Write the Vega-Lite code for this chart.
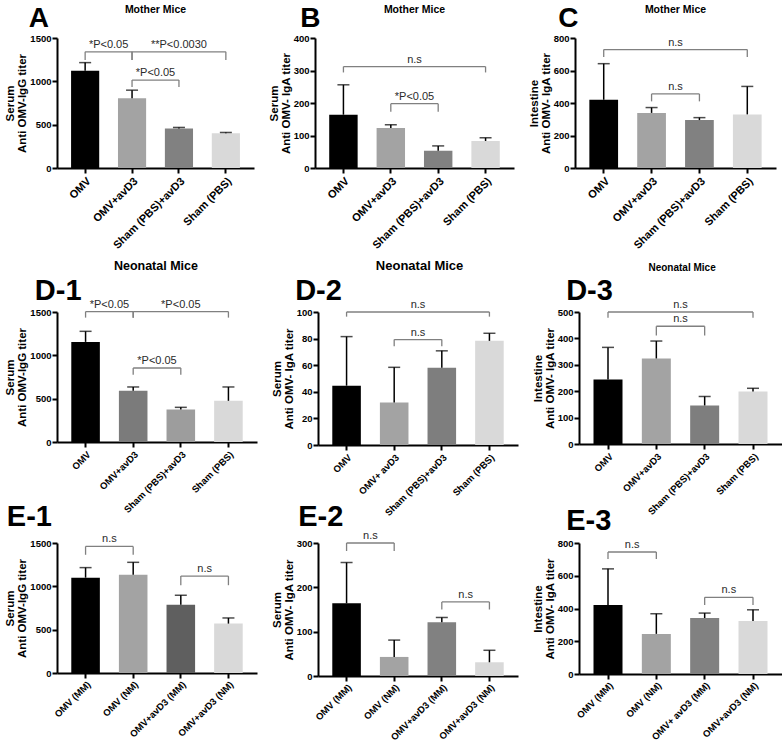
{
"$schema": "https://vega.github.io/schema/vega-lite/v6.json",
"padding": {"left": 4, "top": 4, "right": 0, "bottom": 0},
"datasets": {
"bars": [
{"p":"A","g":"OMV","v":1122,"u":1216},{"p":"A","g":"OMV+avD3","v":806,"u":898},{"p":"A","g":"Sham (PBS)+avD3","v":455,"u":468},{"p":"A","g":"Sham (PBS)","v":400,"u":410},
{"p":"B","g":"OMV","v":164,"u":256},{"p":"B","g":"OMV+avD3","v":123,"u":133},{"p":"B","g":"Sham (PBS)+avD3","v":53,"u":68},{"p":"B","g":"Sham (PBS)","v":83,"u":93},
{"p":"C","g":"OMV","v":420,"u":642},{"p":"C","g":"OMV+avD3","v":339,"u":372},{"p":"C","g":"Sham (PBS)+avD3","v":295,"u":310},{"p":"C","g":"Sham (PBS)","v":330,"u":502},
{"p":"D1","g":"OMV","v":1155,"u":1277},{"p":"D1","g":"OMV+avD3","v":590,"u":635},{"p":"D1","g":"Sham (PBS)+avD3","v":375,"u":400},{"p":"D1","g":"Sham (PBS)","v":475,"u":635},
{"p":"D2","g":"OMV","v":44.6,"u":81.5},{"p":"D2","g":"OMV+ avD3","v":32,"u":58.4},{"p":"D2","g":"Sham (PBS)+avD3","v":58,"u":70.8},{"p":"D2","g":"Sham (PBS)","v":78.3,"u":84},
{"p":"D3","g":"OMV","v":244,"u":366},{"p":"D3","g":"OMV+avD3","v":324,"u":390},{"p":"D3","g":"Sham (PBS)+avD3","v":146,"u":180},{"p":"D3","g":"Sham (PBS)","v":199,"u":211},
{"p":"E1","g":"OMV (MM)","v":1100,"u":1216},{"p":"E1","g":"OMV (NM)","v":1133,"u":1277},{"p":"E1","g":"OMV+avD3 (MM)","v":787,"u":897},{"p":"E1","g":"OMV+avD3 (NM)","v":570,"u":635},
{"p":"E2","g":"OMV (MM)","v":164,"u":256},{"p":"E2","g":"OMV (NM)","v":43,"u":81},{"p":"E2","g":"OMV+avD3 (MM)","v":121,"u":132},{"p":"E2","g":"OMV+avD3 (NM)","v":31,"u":58},
{"p":"E3","g":"OMV (MM)","v":422,"u":642},{"p":"E3","g":"OMV (NM)","v":245,"u":368},{"p":"E3","g":"OMV+ avD3 (MM)","v":342,"u":372},{"p":"E3","g":"OMV+avD3 (NM)","v":324,"u":392}
],
"br": [
{"p":"A","a":"OMV","b":"OMV+avD3","lv":1340,"lo":1245,"t":"*P<0.05","s":1},
{"p":"A","a":"OMV+avD3","b":"Sham (PBS)","lv":1340,"lo":1245,"t":"**P<0.0030","s":2},
{"p":"A","a":"OMV+avD3","b":"Sham (PBS)+avD3","lv":1015,"lo":935,"t":"*P<0.05","s":1},
{"p":"B","a":"OMV","b":"Sham (PBS)","lv":312,"lo":294,"t":"n.s","s":3},
{"p":"B","a":"OMV+avD3","b":"Sham (PBS)+avD3","lv":198,"lo":173,"t":"*P<0.05","s":1},
{"p":"C","a":"OMV","b":"Sham (PBS)","lv":729,"lo":683,"t":"n.s","s":3},
{"p":"C","a":"OMV+avD3","b":"Sham (PBS)+avD3","lv":456,"lo":410,"t":"n.s","s":1},
{"p":"D1","a":"OMV","b":"OMV+avD3","lv":1505,"lo":1435,"t":"*P<0.05","s":1},
{"p":"D1","a":"OMV+avD3","b":"Sham (PBS)","lv":1505,"lo":1435,"t":"*P<0.05","s":2},
{"p":"D1","a":"OMV+avD3","b":"Sham (PBS)+avD3","lv":854,"lo":777,"t":"*P<0.05","s":1},
{"p":"D2","a":"OMV","b":"Sham (PBS)","lv":100,"lo":96.5,"t":"n.s","s":3},
{"p":"D2","a":"OMV+ avD3","b":"Sham (PBS)+avD3","lv":79.3,"lo":74.3,"t":"n.s","s":1},
{"p":"D3","a":"OMV","b":"Sham (PBS)","lv":500,"lo":478,"t":"n.s","s":3},
{"p":"D3","a":"OMV+avD3","b":"Sham (PBS)+avD3","lv":446,"lo":411,"t":"n.s","s":1},
{"p":"E1","a":"OMV (MM)","b":"OMV (NM)","lv":1461,"lo":1364,"t":"n.s","s":1},
{"p":"E1","a":"OMV+avD3 (MM)","b":"OMV+avD3 (NM)","lv":1118,"lo":1013,"t":"n.s","s":1},
{"p":"E2","a":"OMV (MM)","b":"OMV (NM)","lv":300,"lo":282,"t":"n.s","s":1},
{"p":"E2","a":"OMV+avD3 (MM)","b":"OMV+avD3 (NM)","lv":167,"lo":150,"t":"n.s","s":1},
{"p":"E3","a":"OMV (MM)","b":"OMV (NM)","lv":745,"lo":703,"t":"n.s","s":1},
{"p":"E3","a":"OMV+ avD3 (MM)","b":"OMV+avD3 (NM)","lv":468,"lo":421,"t":"n.s","s":1}
]
},
"config": {
"font": "Liberation Sans",
"view": {"stroke": null},
"axis": {"domainColor":"#000","domainWidth":2,"tickColor":"#000","tickWidth":2,"tickSize":5,"grid":false,"labelColor":"#000","labelFontWeight":"bold","titleColor":"#000","titleFontWeight":"bold","labelPadding":1,"labelOverlap":false},
"axisX": {"labelAngle":-45,"labelFontSize":10,"labelPadding":2},
"axisY": {"labelFontSize":9.5,"titleFontSize":11.5,"titlePadding":2,"titleLineHeight":12,"labelOverlap":false,"labelSeparation":0},
"title": {"color":"#000","fontWeight":"bold","font":"Liberation Sans"},
"text": {"font":"Liberation Sans","color":"#2a2a2a","fontSize":11},
"concat": {"spacing": 14}
},
"resolve": {"scale": {"x":"independent","y":"independent","color":"independent"}},
"spacing": 9,
"vconcat": [
{"hconcat": [
{"title": {"text":"A","anchor":"start","frame":"bounds","fontSize":28,"dx":24,"dy":32},
 "resolve": {"scale": {"color":"independent"}},
 "vconcat": [{"width":197,"height":130,
 "title": {"text":"Mother Mice","fontSize":10.5,"anchor":"middle","frame":"group","offset":18},
 "layer": [
 {"data":{"name":"bars"},"transform":[{"filter":"datum.p=='A'"}],"mark":{"type":"bar"},"encoding":{"x":{"field":"g","type":"nominal","scale":{"domain":["OMV","OMV+avD3","Sham (PBS)+avD3","Sham (PBS)"],"paddingInner":0.4,"paddingOuter":0.3},"axis":{"title":null,"labelFontSize":11}},"y":{"field":"v","type":"quantitative","scale":{"domain":[0,1500],"nice":false},"axis":{"tickCount":3,"format":"d","labelOverlap":false,"title":["Serum","Anti OMV-IgG titer"]}},"color":{"field":"g","type":"nominal","scale":{"domain":["OMV","OMV+avD3","Sham (PBS)+avD3","Sham (PBS)"],"range":["#000000","#a3a3a3","#818181","#d9d9d9"]},"legend":null}}},
 {"data":{"name":"bars"},"transform":[{"filter":"datum.p=='A'"}],"mark":{"type":"rule","color":"#000","strokeWidth":1.5},"encoding":{"x":{"field":"g","type":"nominal","title":null},"y":{"field":"v","type":"quantitative"},"y2":{"field":"u"}}},
 {"data":{"name":"bars"},"transform":[{"filter":"datum.p=='A'"}],"mark":{"type":"tick","color":"#000","thickness":1.5,"size":12},"encoding":{"x":{"field":"g","type":"nominal","title":null},"y":{"field":"u","type":"quantitative"}}},
 {"data":{"name":"br"},"transform":[{"filter":"datum.p=='A'"}],"mark":{"type":"rule","color":"#808080","strokeWidth":1.3},"encoding":{"x":{"field":"a","type":"nominal","title":null},"x2":{"field":"b"},"y":{"field":"lv","type":"quantitative"}}},
 {"data":{"name":"br"},"transform":[{"filter":"datum.p=='A'"}],"mark":{"type":"rule","color":"#808080","strokeWidth":1.3},"encoding":{"x":{"field":"a","type":"nominal","title":null},"y":{"field":"lv","type":"quantitative"},"y2":{"field":"lo"}}},
 {"data":{"name":"br"},"transform":[{"filter":"datum.p=='A'"}],"mark":{"type":"rule","color":"#808080","strokeWidth":1.3},"encoding":{"x":{"field":"b","type":"nominal","title":null},"y":{"field":"lv","type":"quantitative"},"y2":{"field":"lo"}}},
 {"data":{"name":"br"},"transform":[{"filter":"datum.p=='A' && datum.s==1"}],"mark":{"type":"text","baseline":"bottom","dy":-2},"encoding":{"x":{"field":"a","type":"nominal","title":null,"bandPosition":1.3333},"y":{"field":"lv","type":"quantitative"},"text":{"field":"t"}}},
 {"data":{"name":"br"},"transform":[{"filter":"datum.p=='A' && datum.s==2"}],"mark":{"type":"text","baseline":"bottom","dy":-2},"encoding":{"x":{"field":"a","type":"nominal","title":null,"bandPosition":2.1667},"y":{"field":"lv","type":"quantitative"},"text":{"field":"t"}}}
 ]}]},
{"title": {"text":"B","anchor":"start","frame":"bounds","fontSize":28,"dx":32,"dy":32},
 "resolve": {"scale": {"color":"independent"}},
 "vconcat": [{"width":199,"height":130,
 "title": {"text":"Mother Mice","fontSize":10.5,"anchor":"middle","frame":"group","offset":18},
 "layer": [
 {"data":{"name":"bars"},"transform":[{"filter":"datum.p=='B'"}],"mark":{"type":"bar"},"encoding":{"x":{"field":"g","type":"nominal","scale":{"domain":["OMV","OMV+avD3","Sham (PBS)+avD3","Sham (PBS)"],"paddingInner":0.4,"paddingOuter":0.3},"axis":{"title":null,"labelFontSize":11}},"y":{"field":"v","type":"quantitative","scale":{"domain":[0,400],"nice":false},"axis":{"tickCount":4,"format":"d","labelOverlap":false,"title":["Serum","Anti OMV- IgA titer"]}},"color":{"field":"g","type":"nominal","scale":{"domain":["OMV","OMV+avD3","Sham (PBS)+avD3","Sham (PBS)"],"range":["#000000","#a3a3a3","#818181","#d9d9d9"]},"legend":null}}},
 {"data":{"name":"bars"},"transform":[{"filter":"datum.p=='B'"}],"mark":{"type":"rule","color":"#000","strokeWidth":1.5},"encoding":{"x":{"field":"g","type":"nominal","title":null},"y":{"field":"v","type":"quantitative"},"y2":{"field":"u"}}},
 {"data":{"name":"bars"},"transform":[{"filter":"datum.p=='B'"}],"mark":{"type":"tick","color":"#000","thickness":1.5,"size":12},"encoding":{"x":{"field":"g","type":"nominal","title":null},"y":{"field":"u","type":"quantitative"}}},
 {"data":{"name":"br"},"transform":[{"filter":"datum.p=='B'"}],"mark":{"type":"rule","color":"#808080","strokeWidth":1.3},"encoding":{"x":{"field":"a","type":"nominal","title":null},"x2":{"field":"b"},"y":{"field":"lv","type":"quantitative"}}},
 {"data":{"name":"br"},"transform":[{"filter":"datum.p=='B'"}],"mark":{"type":"rule","color":"#808080","strokeWidth":1.3},"encoding":{"x":{"field":"a","type":"nominal","title":null},"y":{"field":"lv","type":"quantitative"},"y2":{"field":"lo"}}},
 {"data":{"name":"br"},"transform":[{"filter":"datum.p=='B'"}],"mark":{"type":"rule","color":"#808080","strokeWidth":1.3},"encoding":{"x":{"field":"b","type":"nominal","title":null},"y":{"field":"lv","type":"quantitative"},"y2":{"field":"lo"}}},
 {"data":{"name":"br"},"transform":[{"filter":"datum.p=='B' && datum.s==1"}],"mark":{"type":"text","baseline":"bottom","dy":-2},"encoding":{"x":{"field":"a","type":"nominal","title":null,"bandPosition":1.3333},"y":{"field":"lv","type":"quantitative"},"text":{"field":"t"}}},
 {"data":{"name":"br"},"transform":[{"filter":"datum.p=='B' && datum.s==3"}],"mark":{"type":"text","baseline":"bottom","dy":-2},"encoding":{"x":{"field":"a","type":"nominal","title":null,"bandPosition":3.0},"y":{"field":"lv","type":"quantitative"},"text":{"field":"t"}}}
 ]}]},
{"title": {"text":"C","anchor":"start","frame":"bounds","fontSize":28,"dx":30,"dy":32},
 "resolve": {"scale": {"color":"independent"}},
 "vconcat": [{"width":201,"height":130,
 "title": {"text":"Mother Mice","fontSize":10.5,"anchor":"middle","frame":"group","offset":18},
 "layer": [
 {"data":{"name":"bars"},"transform":[{"filter":"datum.p=='C'"}],"mark":{"type":"bar"},"encoding":{"x":{"field":"g","type":"nominal","scale":{"domain":["OMV","OMV+avD3","Sham (PBS)+avD3","Sham (PBS)"],"paddingInner":0.4,"paddingOuter":0.3},"axis":{"title":null,"labelFontSize":11}},"y":{"field":"v","type":"quantitative","scale":{"domain":[0,800],"nice":false},"axis":{"tickCount":4,"format":"d","labelOverlap":false,"title":["Intestine","Anti OMV- IgA titer"]}},"color":{"field":"g","type":"nominal","scale":{"domain":["OMV","OMV+avD3","Sham (PBS)+avD3","Sham (PBS)"],"range":["#000000","#a3a3a3","#818181","#d9d9d9"]},"legend":null}}},
 {"data":{"name":"bars"},"transform":[{"filter":"datum.p=='C'"}],"mark":{"type":"rule","color":"#000","strokeWidth":1.5},"encoding":{"x":{"field":"g","type":"nominal","title":null},"y":{"field":"v","type":"quantitative"},"y2":{"field":"u"}}},
 {"data":{"name":"bars"},"transform":[{"filter":"datum.p=='C'"}],"mark":{"type":"tick","color":"#000","thickness":1.5,"size":12},"encoding":{"x":{"field":"g","type":"nominal","title":null},"y":{"field":"u","type":"quantitative"}}},
 {"data":{"name":"br"},"transform":[{"filter":"datum.p=='C'"}],"mark":{"type":"rule","color":"#808080","strokeWidth":1.3},"encoding":{"x":{"field":"a","type":"nominal","title":null},"x2":{"field":"b"},"y":{"field":"lv","type":"quantitative"}}},
 {"data":{"name":"br"},"transform":[{"filter":"datum.p=='C'"}],"mark":{"type":"rule","color":"#808080","strokeWidth":1.3},"encoding":{"x":{"field":"a","type":"nominal","title":null},"y":{"field":"lv","type":"quantitative"},"y2":{"field":"lo"}}},
 {"data":{"name":"br"},"transform":[{"filter":"datum.p=='C'"}],"mark":{"type":"rule","color":"#808080","strokeWidth":1.3},"encoding":{"x":{"field":"b","type":"nominal","title":null},"y":{"field":"lv","type":"quantitative"},"y2":{"field":"lo"}}},
 {"data":{"name":"br"},"transform":[{"filter":"datum.p=='C' && datum.s==1"}],"mark":{"type":"text","baseline":"bottom","dy":-2},"encoding":{"x":{"field":"a","type":"nominal","title":null,"bandPosition":1.3333},"y":{"field":"lv","type":"quantitative"},"text":{"field":"t"}}},
 {"data":{"name":"br"},"transform":[{"filter":"datum.p=='C' && datum.s==3"}],"mark":{"type":"text","baseline":"bottom","dy":-2},"encoding":{"x":{"field":"a","type":"nominal","title":null,"bandPosition":3.0},"y":{"field":"lv","type":"quantitative"},"text":{"field":"t"}}}
 ]}]}
], "resolve": {"scale": {"x":"independent","y":"independent","color":"independent"}}},
{"spacing": -15, "resolve": {"scale": {"x":"independent","y":"independent","color":"independent"}},
"vconcat": [
{"hconcat": [
{"title": {"text":"Neonatal Mice","anchor":"middle","frame":"bounds","fontSize":12.5,"dx":25,"offset":4},
 "resolve": {"scale": {"color":"independent"}},
 "vconcat": [{"width":200,"height":130,
 "title": {"text":"D-1","fontSize":29,"anchor":"start","frame":"bounds","dx":30,"offset":6,"dy":13},
 "layer": [
 {"data":{"name":"bars"},"transform":[{"filter":"datum.p=='D1'"}],"mark":{"type":"bar"},"encoding":{"x":{"field":"g","type":"nominal","scale":{"domain":["OMV","OMV+avD3","Sham (PBS)+avD3","Sham (PBS)"],"paddingInner":0.4,"paddingOuter":0.3},"axis":{"title":null,"labelFontSize":9.5}},"y":{"field":"v","type":"quantitative","scale":{"domain":[0,1500],"nice":false},"axis":{"tickCount":3,"format":"d","labelOverlap":false,"title":["Serum","Anti OMV-IgG titer"]}},"color":{"field":"g","type":"nominal","scale":{"domain":["OMV","OMV+avD3","Sham (PBS)+avD3","Sham (PBS)"],"range":["#000000","#7b7b7b","#9d9d9d","#d9d9d9"]},"legend":null}}},
 {"data":{"name":"bars"},"transform":[{"filter":"datum.p=='D1'"}],"mark":{"type":"rule","color":"#000","strokeWidth":1.5},"encoding":{"x":{"field":"g","type":"nominal","title":null},"y":{"field":"v","type":"quantitative"},"y2":{"field":"u"}}},
 {"data":{"name":"bars"},"transform":[{"filter":"datum.p=='D1'"}],"mark":{"type":"tick","color":"#000","thickness":1.5,"size":12},"encoding":{"x":{"field":"g","type":"nominal","title":null},"y":{"field":"u","type":"quantitative"}}},
 {"data":{"name":"br"},"transform":[{"filter":"datum.p=='D1'"}],"mark":{"type":"rule","color":"#808080","strokeWidth":1.3},"encoding":{"x":{"field":"a","type":"nominal","title":null},"x2":{"field":"b"},"y":{"field":"lv","type":"quantitative"}}},
 {"data":{"name":"br"},"transform":[{"filter":"datum.p=='D1'"}],"mark":{"type":"rule","color":"#808080","strokeWidth":1.3},"encoding":{"x":{"field":"a","type":"nominal","title":null},"y":{"field":"lv","type":"quantitative"},"y2":{"field":"lo"}}},
 {"data":{"name":"br"},"transform":[{"filter":"datum.p=='D1'"}],"mark":{"type":"rule","color":"#808080","strokeWidth":1.3},"encoding":{"x":{"field":"b","type":"nominal","title":null},"y":{"field":"lv","type":"quantitative"},"y2":{"field":"lo"}}},
 {"data":{"name":"br"},"transform":[{"filter":"datum.p=='D1' && datum.s==1"}],"mark":{"type":"text","baseline":"bottom","dy":-2},"encoding":{"x":{"field":"a","type":"nominal","title":null,"bandPosition":1.3333},"y":{"field":"lv","type":"quantitative"},"text":{"field":"t"}}},
 {"data":{"name":"br"},"transform":[{"filter":"datum.p=='D1' && datum.s==2"}],"mark":{"type":"text","baseline":"bottom","dy":-2},"encoding":{"x":{"field":"a","type":"nominal","title":null,"bandPosition":2.1667},"y":{"field":"lv","type":"quantitative"},"text":{"field":"t"}}}
 ]}]},
{"title": {"text":"Neonatal Mice","anchor":"middle","frame":"bounds","fontSize":13,"dx":25,"offset":4},
 "resolve": {"scale": {"color":"independent"}},
 "vconcat": [{"width":200,"height":133,
 "title": {"text":"D-2","fontSize":29,"anchor":"start","frame":"bounds","dx":24,"offset":6,"dy":13},
 "layer": [
 {"data":{"name":"bars"},"transform":[{"filter":"datum.p=='D2'"}],"mark":{"type":"bar"},"encoding":{"x":{"field":"g","type":"nominal","scale":{"domain":["OMV","OMV+ avD3","Sham (PBS)+avD3","Sham (PBS)"],"paddingInner":0.4,"paddingOuter":0.3},"axis":{"title":null,"labelFontSize":9.5}},"y":{"field":"v","type":"quantitative","scale":{"domain":[0,100],"nice":false},"axis":{"tickCount":5,"format":"d","labelOverlap":false,"title":["Serum","Anti OMV- IgA titer"]}},"color":{"field":"g","type":"nominal","scale":{"domain":["OMV","OMV+ avD3","Sham (PBS)+avD3","Sham (PBS)"],"range":["#000000","#a3a3a3","#7e7e7e","#d9d9d9"]},"legend":null}}},
 {"data":{"name":"bars"},"transform":[{"filter":"datum.p=='D2'"}],"mark":{"type":"rule","color":"#000","strokeWidth":1.5},"encoding":{"x":{"field":"g","type":"nominal","title":null},"y":{"field":"v","type":"quantitative"},"y2":{"field":"u"}}},
 {"data":{"name":"bars"},"transform":[{"filter":"datum.p=='D2'"}],"mark":{"type":"tick","color":"#000","thickness":1.5,"size":12},"encoding":{"x":{"field":"g","type":"nominal","title":null},"y":{"field":"u","type":"quantitative"}}},
 {"data":{"name":"br"},"transform":[{"filter":"datum.p=='D2'"}],"mark":{"type":"rule","color":"#808080","strokeWidth":1.3},"encoding":{"x":{"field":"a","type":"nominal","title":null},"x2":{"field":"b"},"y":{"field":"lv","type":"quantitative"}}},
 {"data":{"name":"br"},"transform":[{"filter":"datum.p=='D2'"}],"mark":{"type":"rule","color":"#808080","strokeWidth":1.3},"encoding":{"x":{"field":"a","type":"nominal","title":null},"y":{"field":"lv","type":"quantitative"},"y2":{"field":"lo"}}},
 {"data":{"name":"br"},"transform":[{"filter":"datum.p=='D2'"}],"mark":{"type":"rule","color":"#808080","strokeWidth":1.3},"encoding":{"x":{"field":"b","type":"nominal","title":null},"y":{"field":"lv","type":"quantitative"},"y2":{"field":"lo"}}},
 {"data":{"name":"br"},"transform":[{"filter":"datum.p=='D2' && datum.s==1"}],"mark":{"type":"text","baseline":"bottom","dy":-2},"encoding":{"x":{"field":"a","type":"nominal","title":null,"bandPosition":1.3333},"y":{"field":"lv","type":"quantitative"},"text":{"field":"t"}}},
 {"data":{"name":"br"},"transform":[{"filter":"datum.p=='D2' && datum.s==3"}],"mark":{"type":"text","baseline":"bottom","dy":-2},"encoding":{"x":{"field":"a","type":"nominal","title":null,"bandPosition":3.0},"y":{"field":"lv","type":"quantitative"},"text":{"field":"t"}}}
 ]}]},
{"title": {"text":"Neonatal Mice","anchor":"middle","frame":"bounds","fontSize":10,"dx":25,"offset":4},
 "resolve": {"scale": {"color":"independent"}},
 "vconcat": [{"width":203,"height":132,
 "title": {"text":"D-3","fontSize":29,"anchor":"start","frame":"bounds","dx":34,"offset":6,"dy":13},
 "layer": [
 {"data":{"name":"bars"},"transform":[{"filter":"datum.p=='D3'"}],"mark":{"type":"bar"},"encoding":{"x":{"field":"g","type":"nominal","scale":{"domain":["OMV","OMV+avD3","Sham (PBS)+avD3","Sham (PBS)"],"paddingInner":0.4,"paddingOuter":0.3},"axis":{"title":null,"labelFontSize":9.5}},"y":{"field":"v","type":"quantitative","scale":{"domain":[0,500],"nice":false},"axis":{"tickCount":5,"format":"d","labelOverlap":false,"title":["Intestine","Anti OMV- IgA titer"]}},"color":{"field":"g","type":"nominal","scale":{"domain":["OMV","OMV+avD3","Sham (PBS)+avD3","Sham (PBS)"],"range":["#000000","#a3a3a3","#7e7e7e","#d9d9d9"]},"legend":null}}},
 {"data":{"name":"bars"},"transform":[{"filter":"datum.p=='D3'"}],"mark":{"type":"rule","color":"#000","strokeWidth":1.5},"encoding":{"x":{"field":"g","type":"nominal","title":null},"y":{"field":"v","type":"quantitative"},"y2":{"field":"u"}}},
 {"data":{"name":"bars"},"transform":[{"filter":"datum.p=='D3'"}],"mark":{"type":"tick","color":"#000","thickness":1.5,"size":12},"encoding":{"x":{"field":"g","type":"nominal","title":null},"y":{"field":"u","type":"quantitative"}}},
 {"data":{"name":"br"},"transform":[{"filter":"datum.p=='D3'"}],"mark":{"type":"rule","color":"#808080","strokeWidth":1.3},"encoding":{"x":{"field":"a","type":"nominal","title":null},"x2":{"field":"b"},"y":{"field":"lv","type":"quantitative"}}},
 {"data":{"name":"br"},"transform":[{"filter":"datum.p=='D3'"}],"mark":{"type":"rule","color":"#808080","strokeWidth":1.3},"encoding":{"x":{"field":"a","type":"nominal","title":null},"y":{"field":"lv","type":"quantitative"},"y2":{"field":"lo"}}},
 {"data":{"name":"br"},"transform":[{"filter":"datum.p=='D3'"}],"mark":{"type":"rule","color":"#808080","strokeWidth":1.3},"encoding":{"x":{"field":"b","type":"nominal","title":null},"y":{"field":"lv","type":"quantitative"},"y2":{"field":"lo"}}},
 {"data":{"name":"br"},"transform":[{"filter":"datum.p=='D3' && datum.s==1"}],"mark":{"type":"text","baseline":"bottom","dy":-2},"encoding":{"x":{"field":"a","type":"nominal","title":null,"bandPosition":1.3333},"y":{"field":"lv","type":"quantitative"},"text":{"field":"t"}}},
 {"data":{"name":"br"},"transform":[{"filter":"datum.p=='D3' && datum.s==3"}],"mark":{"type":"text","baseline":"bottom","dy":-2},"encoding":{"x":{"field":"a","type":"nominal","title":null,"bandPosition":3.0},"y":{"field":"lv","type":"quantitative"},"text":{"field":"t"}}}
 ]}]}
], "resolve": {"scale": {"x":"independent","y":"independent","color":"independent"}}},
{"hconcat": [
{"width":200,"height":130,
 "title": {"text":"E-1","fontSize":29,"anchor":"start","frame":"bounds","dx":2,"offset":1},
 "layer": [
 {"data":{"name":"bars"},"transform":[{"filter":"datum.p=='E1'"}],"mark":{"type":"bar"},"encoding":{"x":{"field":"g","type":"nominal","scale":{"domain":["OMV (MM)","OMV (NM)","OMV+avD3 (MM)","OMV+avD3 (NM)"],"paddingInner":0.4,"paddingOuter":0.3},"axis":{"title":null,"labelFontSize":9.5,"labelPadding":1}},"y":{"field":"v","type":"quantitative","scale":{"domain":[0,1500],"nice":false},"axis":{"tickCount":3,"format":"d","labelOverlap":false,"title":["Serum","Anti OMV-IgG titer"]}},"color":{"field":"g","type":"nominal","scale":{"domain":["OMV (MM)","OMV (NM)","OMV+avD3 (MM)","OMV+avD3 (NM)"],"range":["#000000","#a3a3a3","#5f5f5f","#d9d9d9"]},"legend":null}}},
 {"data":{"name":"bars"},"transform":[{"filter":"datum.p=='E1'"}],"mark":{"type":"rule","color":"#000","strokeWidth":1.5},"encoding":{"x":{"field":"g","type":"nominal","title":null},"y":{"field":"v","type":"quantitative"},"y2":{"field":"u"}}},
 {"data":{"name":"bars"},"transform":[{"filter":"datum.p=='E1'"}],"mark":{"type":"tick","color":"#000","thickness":1.5,"size":12},"encoding":{"x":{"field":"g","type":"nominal","title":null},"y":{"field":"u","type":"quantitative"}}},
 {"data":{"name":"br"},"transform":[{"filter":"datum.p=='E1'"}],"mark":{"type":"rule","color":"#808080","strokeWidth":1.3},"encoding":{"x":{"field":"a","type":"nominal","title":null},"x2":{"field":"b"},"y":{"field":"lv","type":"quantitative"}}},
 {"data":{"name":"br"},"transform":[{"filter":"datum.p=='E1'"}],"mark":{"type":"rule","color":"#808080","strokeWidth":1.3},"encoding":{"x":{"field":"a","type":"nominal","title":null},"y":{"field":"lv","type":"quantitative"},"y2":{"field":"lo"}}},
 {"data":{"name":"br"},"transform":[{"filter":"datum.p=='E1'"}],"mark":{"type":"rule","color":"#808080","strokeWidth":1.3},"encoding":{"x":{"field":"b","type":"nominal","title":null},"y":{"field":"lv","type":"quantitative"},"y2":{"field":"lo"}}},
 {"data":{"name":"br"},"transform":[{"filter":"datum.p=='E1' && datum.s==1"}],"mark":{"type":"text","baseline":"bottom","dy":-2},"encoding":{"x":{"field":"a","type":"nominal","title":null,"bandPosition":1.3333},"y":{"field":"lv","type":"quantitative"},"text":{"field":"t"}}}
 ]},
{"width":200,"height":133,
 "title": {"text":"E-2","fontSize":29,"anchor":"start","frame":"bounds","dx":27,"offset":10,"dy":12},
 "layer": [
 {"data":{"name":"bars"},"transform":[{"filter":"datum.p=='E2'"}],"mark":{"type":"bar"},"encoding":{"x":{"field":"g","type":"nominal","scale":{"domain":["OMV (MM)","OMV (NM)","OMV+avD3 (MM)","OMV+avD3 (NM)"],"paddingInner":0.4,"paddingOuter":0.3},"axis":{"title":null,"labelFontSize":9.5,"labelPadding":1}},"y":{"field":"v","type":"quantitative","scale":{"domain":[0,300],"nice":false},"axis":{"tickCount":3,"format":"d","labelOverlap":false,"title":["Serum","Anti OMV- IgA titer"]}},"color":{"field":"g","type":"nominal","scale":{"domain":["OMV (MM)","OMV (NM)","OMV+avD3 (MM)","OMV+avD3 (NM)"],"range":["#000000","#a3a3a3","#818181","#d9d9d9"]},"legend":null}}},
 {"data":{"name":"bars"},"transform":[{"filter":"datum.p=='E2'"}],"mark":{"type":"rule","color":"#000","strokeWidth":1.5},"encoding":{"x":{"field":"g","type":"nominal","title":null},"y":{"field":"v","type":"quantitative"},"y2":{"field":"u"}}},
 {"data":{"name":"bars"},"transform":[{"filter":"datum.p=='E2'"}],"mark":{"type":"tick","color":"#000","thickness":1.5,"size":12},"encoding":{"x":{"field":"g","type":"nominal","title":null},"y":{"field":"u","type":"quantitative"}}},
 {"data":{"name":"br"},"transform":[{"filter":"datum.p=='E2'"}],"mark":{"type":"rule","color":"#808080","strokeWidth":1.3},"encoding":{"x":{"field":"a","type":"nominal","title":null},"x2":{"field":"b"},"y":{"field":"lv","type":"quantitative"}}},
 {"data":{"name":"br"},"transform":[{"filter":"datum.p=='E2'"}],"mark":{"type":"rule","color":"#808080","strokeWidth":1.3},"encoding":{"x":{"field":"a","type":"nominal","title":null},"y":{"field":"lv","type":"quantitative"},"y2":{"field":"lo"}}},
 {"data":{"name":"br"},"transform":[{"filter":"datum.p=='E2'"}],"mark":{"type":"rule","color":"#808080","strokeWidth":1.3},"encoding":{"x":{"field":"b","type":"nominal","title":null},"y":{"field":"lv","type":"quantitative"},"y2":{"field":"lo"}}},
 {"data":{"name":"br"},"transform":[{"filter":"datum.p=='E2' && datum.s==1"}],"mark":{"type":"text","baseline":"bottom","dy":-2},"encoding":{"x":{"field":"a","type":"nominal","title":null,"bandPosition":1.3333},"y":{"field":"lv","type":"quantitative"},"text":{"field":"t"}}}
 ]},
{"width":203,"height":131,
 "title": {"text":"E-3","fontSize":29,"anchor":"start","frame":"bounds","dx":34,"offset":10,"dy":8},
 "layer": [
 {"data":{"name":"bars"},"transform":[{"filter":"datum.p=='E3'"}],"mark":{"type":"bar"},"encoding":{"x":{"field":"g","type":"nominal","scale":{"domain":["OMV (MM)","OMV (NM)","OMV+ avD3 (MM)","OMV+avD3 (NM)"],"paddingInner":0.4,"paddingOuter":0.3},"axis":{"title":null,"labelFontSize":9.5,"labelPadding":1}},"y":{"field":"v","type":"quantitative","scale":{"domain":[0,800],"nice":false},"axis":{"tickCount":4,"format":"d","labelOverlap":false,"title":["Intestine","Anti OMV- IgA titer"]}},"color":{"field":"g","type":"nominal","scale":{"domain":["OMV (MM)","OMV (NM)","OMV+ avD3 (MM)","OMV+avD3 (NM)"],"range":["#000000","#a3a3a3","#818181","#d9d9d9"]},"legend":null}}},
 {"data":{"name":"bars"},"transform":[{"filter":"datum.p=='E3'"}],"mark":{"type":"rule","color":"#000","strokeWidth":1.5},"encoding":{"x":{"field":"g","type":"nominal","title":null},"y":{"field":"v","type":"quantitative"},"y2":{"field":"u"}}},
 {"data":{"name":"bars"},"transform":[{"filter":"datum.p=='E3'"}],"mark":{"type":"tick","color":"#000","thickness":1.5,"size":12},"encoding":{"x":{"field":"g","type":"nominal","title":null},"y":{"field":"u","type":"quantitative"}}},
 {"data":{"name":"br"},"transform":[{"filter":"datum.p=='E3'"}],"mark":{"type":"rule","color":"#808080","strokeWidth":1.3},"encoding":{"x":{"field":"a","type":"nominal","title":null},"x2":{"field":"b"},"y":{"field":"lv","type":"quantitative"}}},
 {"data":{"name":"br"},"transform":[{"filter":"datum.p=='E3'"}],"mark":{"type":"rule","color":"#808080","strokeWidth":1.3},"encoding":{"x":{"field":"a","type":"nominal","title":null},"y":{"field":"lv","type":"quantitative"},"y2":{"field":"lo"}}},
 {"data":{"name":"br"},"transform":[{"filter":"datum.p=='E3'"}],"mark":{"type":"rule","color":"#808080","strokeWidth":1.3},"encoding":{"x":{"field":"b","type":"nominal","title":null},"y":{"field":"lv","type":"quantitative"},"y2":{"field":"lo"}}},
 {"data":{"name":"br"},"transform":[{"filter":"datum.p=='E3' && datum.s==1"}],"mark":{"type":"text","baseline":"bottom","dy":-2},"encoding":{"x":{"field":"a","type":"nominal","title":null,"bandPosition":1.3333},"y":{"field":"lv","type":"quantitative"},"text":{"field":"t"}}}
 ]}
], "resolve": {"scale": {"x":"independent","y":"independent","color":"independent"}}}
]}
]
}
